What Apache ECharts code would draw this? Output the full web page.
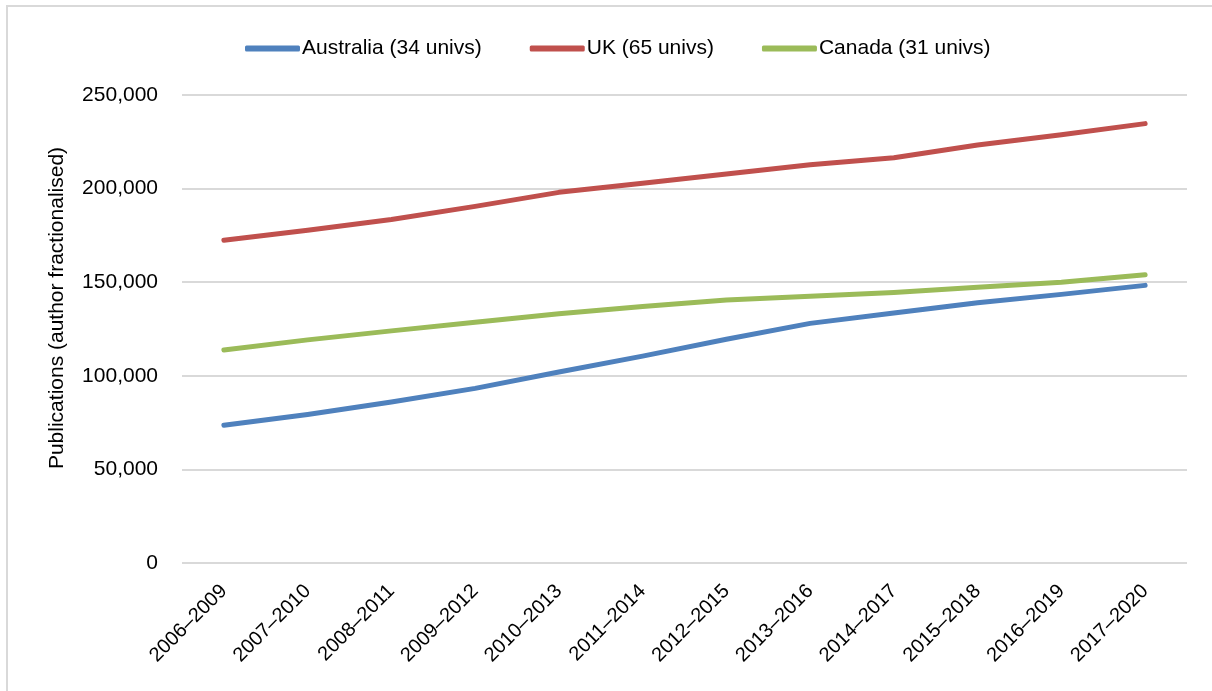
<!DOCTYPE html>
<html>
<head>
<meta charset="utf-8">
<script src="https://cdn.jsdelivr.net/npm/echarts@6/dist/echarts.min.js"></script>
<style>
  html, body { margin: 0; padding: 0; background: #fff; }
  #chart { width: 1212px; height: 691px; }
</style>
</head>
<body>
<div id="chart"></div>
<script>
var periods = ['2006–2009', '2007–2010', '2008–2011', '2009–2012', '2010–2013', '2011–2014',
  '2012–2015', '2013–2016', '2014–2017', '2015–2018', '2016–2019', '2017–2020'];
var australia = [73600, 79300, 86000, 93300, 102000, 110500, 119500, 128000, 133500, 139000, 143500, 148300];
var uk = [172400, 177800, 183500, 190500, 198000, 202800, 207800, 212700, 216500, 223300, 228800, 234700];
var canada = [113800, 119200, 124000, 128600, 133200, 137000, 140500, 142500, 144500, 147300, 150000, 154000];
var seriesNames = ['Australia (34 univs)', 'UK (65 univs)', 'Canada (31 univs)'];
var colors = ['#4f81bd', '#c0504d', '#9bbb59'];

var font = 'Liberation Sans';
var chart = echarts.init(document.getElementById('chart'));

function line(name, data, color) {
  return {
    name: name,
    type: 'line',
    data: data,
    symbol: 'none',
    lineStyle: { width: 5, color: color, cap: 'round', join: 'round' },
    itemStyle: { color: color }
  };
}

var option = {
  backgroundColor: '#fff',
  animation: false,
  textStyle: { fontFamily: font },
  graphic: [{
    type: 'rect',
    shape: { x: 7, y: 6, width: 1220, height: 700 },
    style: { fill: 'none', stroke: '#d9d9d9', lineWidth: 2 },
    silent: true
  }],
  legend: {
    top: 33,
    left: 240,
    itemWidth: 55,
    itemHeight: 6,
    itemGap: 48,
    icon: 'roundRect',
    textStyle: { fontSize: 21, color: '#000', fontFamily: font, padding: [0, 0, 0, -3] },
    data: seriesNames
  },
  grid: { left: 182, right: 25, top: 95, bottom: 128, containLabel: false },
  xAxis: {
    type: 'category',
    data: periods,
    boundaryGap: true,
    axisLine: { show: false },
    axisTick: { show: false },
    axisLabel: { rotate: 45, fontSize: 20, color: '#000', margin: 25, interval: 0 }
  },
  yAxis: {
    type: 'value',
    min: 0,
    max: 250000,
    interval: 50000,
    name: 'Publications (author fractionalised)',
    nameLocation: 'middle',
    nameGap: 114,
    nameTextStyle: { fontSize: 21, color: '#000', padding: [0, 0, 0, 42] },
    axisLine: { show: false },
    axisTick: { show: false },
    axisLabel: {
      fontSize: 21,
      color: '#000',
      margin: 24,
      formatter: function (v) { return v.toLocaleString('en-US'); }
    },
    splitLine: { lineStyle: { color: '#d9d9d9', width: 2 } }
  },
  series: [
    line(seriesNames[0], australia, colors[0]),
    line(seriesNames[1], uk, colors[1]),
    line(seriesNames[2], canada, colors[2])
  ]
};

chart.setOption(option);
</script>
</body>
</html>
